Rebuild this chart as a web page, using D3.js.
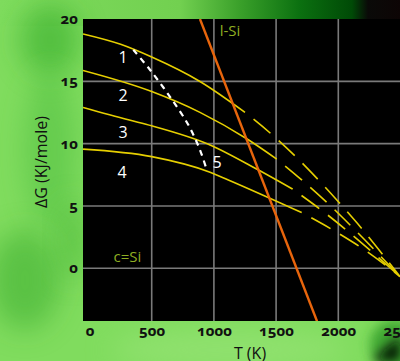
<!DOCTYPE html>
<html>
<head>
<meta charset="utf-8">
<script src="https://cdn.jsdelivr.net/npm/d3@7"></script>
<style>
  html, body { margin: 0; padding: 0; background: #7fdc5e; }
  svg { display: block; }
  .tick text { font-family: "Noto Sans", sans-serif; font-weight: 700; font-size: 15px; fill: #111; font-feature-settings: "onum" 1; font-variant-numeric: oldstyle-nums; }
</style>
</head>
<body>
<svg id="chart" width="400" height="361"></svg>
<script>
// ---- data (T in K, ΔG in KJ/mole) ----
const xTicks = [0, 500, 1000, 1500, 2000, 2500];
const yTicks = [0, 5, 10, 15, 20];
const xGrid = [500, 1000, 1500, 2000];
const yGrid = [0, 5, 10, 15];

const curve1SolidT = [-52, 250, 500, 888, 1250];
const curve1SolidG = [18.80, 17.97, 16.95, 14.99, 12.51];
const curve1DashT = [1250, 1505, 1732, 1939, 2153, 2496];
const curve1DashG = [12.51, 10.39, 8.22, 6.02, 3.61, -0.67];

const curve2SolidT = [-52, 500, 888, 1264, 1505];
const curve2SolidG = [15.87, 14.18, 12.51, 10.39, 8.76];
const curve2DashT = [1505, 1727, 1952, 2121, 2496];
const curve2DashG = [8.76, 6.91, 4.87, 3.21, -0.67];

const curve3SolidT = [-52, 312, 500, 969, 1355, 1633];
const curve3SolidG = [12.90, 11.91, 11.43, 9.90, 7.90, 6.35];
const curve3DashT = [1633, 1879, 2496];
const curve3DashG = [6.35, 4.55, -0.67];

const curve4SolidT = [-52, 500, 969, 1116, 1706];
const curve4SolidG = [9.56, 8.96, 7.71, 7.09, 4.47];
const curve4DashT = [1706, 1979, 2233, 2496];
const curve4DashG = [4.47, 2.94, 1.33, -0.67];

const boundaryT = [352, 486, 647, 794, 888, 942];
const boundaryG = [17.53, 15.93, 13.76, 11.51, 9.50, 7.90];

const liquidT = [888, 1829];
const liquidG = [20, -4.25];

const curveLabels = ["1", "2", "3", "4", "5"];
const curveLabelT = [269, 270, 270, 261, 1025];
const curveLabelG = [16.97, 13.92, 10.95, 7.73, 8.54];

const phaseLabels = ["c=Si", "l-Si"];
const phaseLabelT = [305, 1129];
const phaseLabelG = [0.99, 19.14];

// ---- drawing ----
const svg = d3.select("#chart");
const W = 400, H = 361;
const plot = { left: 83, top: 19, right: 400, bottom: 321 };

const x = d3.scaleLinear().domain([0, 2500]).range([89.5, 400.5]);
const y = d3.scaleLinear().domain([0, 20]).range([268.3, 19]);

const defs = svg.append("defs");
const blur = defs.append("filter").attr("id", "blur").attr("x", "-50%").attr("y", "-50%").attr("width", "200%").attr("height", "200%");
blur.append("feGaussianBlur").attr("stdDeviation", 14);
const blur2 = defs.append("filter").attr("id", "blur2").attr("x", "-50%").attr("y", "-50%").attr("width", "200%").attr("height", "200%");
blur2.append("feGaussianBlur").attr("stdDeviation", 6);

const topGrad = defs.append("linearGradient").attr("id", "topGrad").attr("x1", 0).attr("x2", 1).attr("y1", 0).attr("y2", 0);
[[0, "#7fdc5e"], [0.45, "#72d050"], [0.6, "#3aa02a"], [0.75, "#0b7010"], [0.88, "#004a06"], [0.92, "#0a0a08"], [1, "#0d0505"]]
  .forEach(([o, c]) => topGrad.append("stop").attr("offset", o).attr("stop-color", c));

// background
svg.append("rect").attr("width", W).attr("height", H).attr("fill", "#80dc5e");
const bg = svg.append("g");
bg.append("rect").attr("x", 0).attr("y", 0).attr("width", W).attr("height", 26).attr("fill", "url(#topGrad)");
bg.append("ellipse").attr("cx", 50).attr("cy", 40).attr("rx", 30).attr("ry", 35).attr("fill", "#2fa828").attr("opacity", 0.55).attr("filter", "url(#blur)");
bg.append("ellipse").attr("cx", 50).attr("cy", 150).attr("rx", 25).attr("ry", 80).attr("fill", "#44b83a").attr("opacity", 0.45).attr("filter", "url(#blur)");
bg.append("ellipse").attr("cx", 25).attr("cy", 280).attr("rx", 35).attr("ry", 50).attr("fill", "#34a82a").attr("opacity", 0.5).attr("filter", "url(#blur)");
bg.append("ellipse").attr("cx", 72).attr("cy", 240).attr("rx", 15).attr("ry", 40).attr("fill", "#40b030").attr("opacity", 0.5).attr("filter", "url(#blur)");
bg.append("ellipse").attr("cx", 230).attr("cy", 350).attr("rx", 120).attr("ry", 20).attr("fill", "#9be57a").attr("opacity", 0.6).attr("filter", "url(#blur)");
bg.append("ellipse").attr("cx", 395).attr("cy", 345).attr("rx", 25).attr("ry", 25).attr("fill", "#2f9a28").attr("opacity", 0.8).attr("filter", "url(#blur2)");
bg.append("path").attr("d", "M372,361 L400,336 L400,361 Z").attr("fill", "#050805").attr("filter", "url(#blur2)");

// plot area
svg.append("rect").attr("x", plot.left).attr("y", plot.top)
  .attr("width", plot.right - plot.left).attr("height", plot.bottom - plot.top).attr("fill", "#000");

defs.append("clipPath").attr("id", "clip").append("rect")
  .attr("x", plot.left).attr("y", plot.top).attr("width", plot.right - plot.left).attr("height", plot.bottom - plot.top);

const g = svg.append("g").attr("clip-path", "url(#clip)");

// grid
g.selectAll(".vg").data(xGrid).join("line").attr("class", "vg")
  .attr("x1", d => x(d)).attr("x2", d => x(d)).attr("y1", plot.top).attr("y2", plot.bottom)
  .attr("stroke", "#7a7a7a").attr("stroke-width", 1.6);
g.selectAll(".hg").data(yGrid).join("line").attr("class", "hg")
  .attr("y1", d => y(d)).attr("y2", d => y(d)).attr("x1", plot.left).attr("x2", plot.right)
  .attr("stroke", "#7a7a7a").attr("stroke-width", 1.6);

const line = d3.line().x(d => x(d[0])).y(d => y(d[1])).curve(d3.curveMonotoneX);
const zip = (a, b) => a.map((v, i) => [v, b[i]]);

const yellow = "#e6cf00";
const curves = [
  [curve1SolidT, curve1SolidG, curve1DashT, curve1DashG],
  [curve2SolidT, curve2SolidG, curve2DashT, curve2DashG],
  [curve3SolidT, curve3SolidG, curve3DashT, curve3DashG],
  [curve4SolidT, curve4SolidG, curve4DashT, curve4DashG]
];
curves.forEach(([sT, sG, dT, dG]) => {
  g.append("path").attr("d", line(zip(sT, sG))).attr("fill", "none")
    .attr("stroke", yellow).attr("stroke-width", 1.6);
  g.append("path").attr("d", line(zip(dT, dG))).attr("fill", "none")
    .attr("stroke", yellow).attr("stroke-width", 1.6)
    .attr("stroke-dasharray", "22 11").attr("stroke-dashoffset", 22);
});

// boundary (white dashed)
g.append("path").attr("d", d3.line().x(d => x(d[0])).y(d => y(d[1])).curve(d3.curveCatmullRom)(zip(boundaryT, boundaryG)))
  .attr("fill", "none").attr("stroke", "#fff").attr("stroke-width", 2.2).attr("stroke-dasharray", "6 5");

// liquid line
g.append("path").attr("d", d3.line().x(d => x(d[0])).y(d => y(d[1]))(zip(liquidT, liquidG)))
  .attr("fill", "none").attr("stroke", "#e8650c").attr("stroke-width", 2.4);

// curve labels
g.selectAll(".cl").data(curveLabels).join("text").attr("class", "cl")
  .attr("x", (d, i) => x(curveLabelT[i])).attr("y", (d, i) => y(curveLabelG[i]))
  .attr("text-anchor", "middle").attr("dominant-baseline", "central")
  .attr("font-family", "'Open Sans', sans-serif").attr("font-size", 16).attr("fill", "#fff")
  .text(d => d);

g.selectAll(".pl").data(phaseLabels).join("text").attr("class", "pl")
  .attr("x", (d, i) => x(phaseLabelT[i])).attr("y", (d, i) => y(phaseLabelG[i]))
  .attr("text-anchor", "middle").attr("dominant-baseline", "central")
  .attr("font-family", "'Open Sans', sans-serif").attr("font-size", 15).attr("fill", "#8fae22")
  .text(d => d);

// axes
const xAxis = svg.append("g").attr("transform", `translate(0,${plot.bottom})`)
  .call(d3.axisBottom(x).tickValues(xTicks).tickSize(0).tickPadding(0).tickFormat(d3.format("d")));
xAxis.select(".domain").remove();
xAxis.selectAll("text").attr("y", 15).attr("dy", 0);

const yAxis = svg.append("g").attr("transform", `translate(${plot.left},0)`)
  .call(d3.axisLeft(y).tickValues(yTicks).tickSize(0).tickPadding(5).tickFormat(d3.format("d")));
yAxis.select(".domain").remove();
yAxis.selectAll("text").attr("dy", 4.5);

// axis titles
svg.append("text").attr("x", 250).attr("y", 359).attr("text-anchor", "middle")
  .attr("font-family", "'Open Sans', sans-serif").attr("font-size", 16).attr("fill", "#111").text("T (K)");
svg.append("text").attr("transform", "translate(47,162) rotate(-90)").attr("text-anchor", "middle")
  .attr("font-family", "'Open Sans', sans-serif").attr("font-size", 16).attr("fill", "#111").text("ΔG (KJ/mole)");
</script>
</body>
</html>
